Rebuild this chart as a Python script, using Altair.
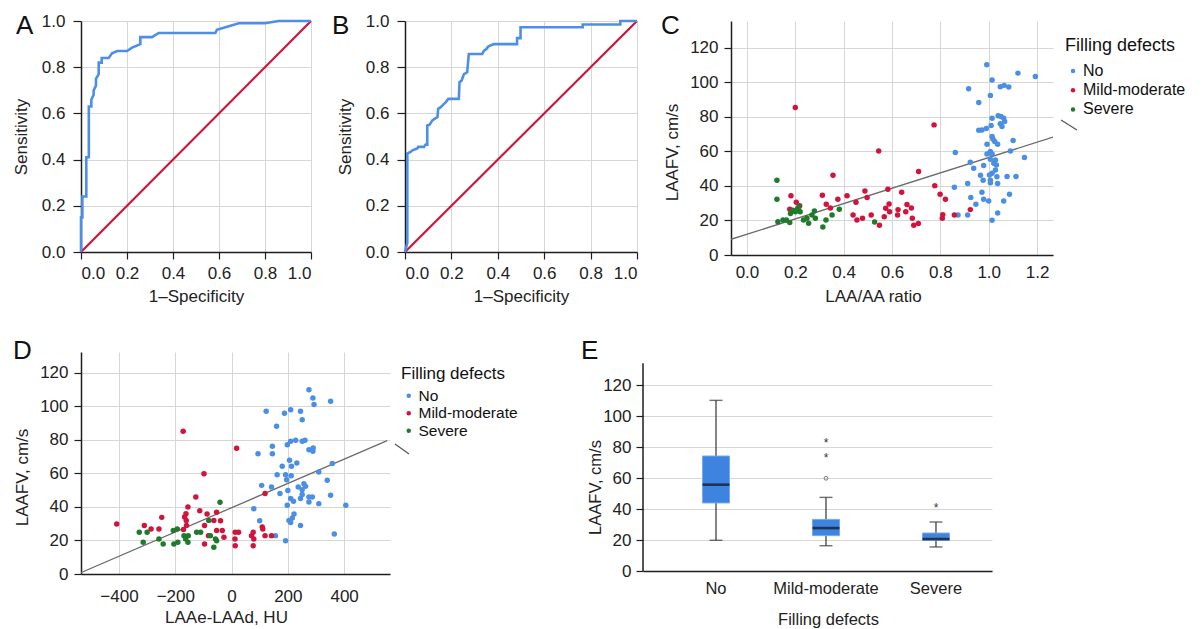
import altair as alt
import pandas as pd

FONT = "Liberation Sans"
BLUE = "#4a8fe4"
RED = "#d0143c"
GREEN = "#1f7a2c"
ROC_BLUE = "#4d8fe6"
ROC_RED = "#cc1538"
BOX_BLUE = "#3f83e0"
GRID = "#d6d6d6"
AXIS = "#1e1e1e"
TXT = "#222222"

# ---------------- ROC curves (1-specificity, sensitivity) ----------------
roc_a = [(0, 0), (0, 0.15), (0.006, 0.15), (0.006, 0.24), (0.023, 0.24), (0.023, 0.41),
         (0.034, 0.41), (0.034, 0.63), (0.045, 0.63), (0.045, 0.66), (0.055, 0.68),
         (0.055, 0.70), (0.065, 0.72), (0.065, 0.75), (0.077, 0.77), (0.077, 0.82),
         (0.09, 0.82), (0.09, 0.84), (0.12, 0.84), (0.135, 0.86), (0.157, 0.87),
         (0.2, 0.87), (0.222, 0.885), (0.258, 0.9), (0.258, 0.93), (0.309, 0.93),
         (0.338, 0.948), (0.584, 0.948), (0.591, 0.962), (0.686, 0.99), (0.8, 0.99),
         (0.859, 1.0), (1.0, 1.0)]
roc_b = [(0, 0), (0.01, 0.04), (0.01, 0.426), (0.024, 0.433), (0.032, 0.44), (0.053, 0.448),
         (0.057, 0.455), (0.082, 0.455), (0.089, 0.465), (0.096, 0.465), (0.096, 0.548),
         (0.106, 0.551), (0.118, 0.57), (0.129, 0.577), (0.14, 0.584), (0.143, 0.62),
         (0.154, 0.627), (0.164, 0.637), (0.175, 0.648), (0.187, 0.663), (0.232, 0.663),
         (0.235, 0.735), (0.244, 0.742), (0.254, 0.77), (0.268, 0.778), (0.275, 0.857),
         (0.333, 0.857), (0.34, 0.871), (0.35, 0.878), (0.36, 0.89), (0.383, 0.9),
         (0.483, 0.9), (0.483, 0.926), (0.498, 0.926), (0.498, 0.973), (0.766, 0.973),
         (0.766, 0.985), (0.928, 0.985), (0.928, 1.0), (1.0, 1.0)]
roc_diag = [0, 1]
roc_ticks = [0, 0.2, 0.4, 0.6, 0.8, 1.0]

# ---------------- C: LAA/AA ratio vs LAAFV ----------------
groups = ["No", "Mild-moderate", "Severe"]
c_no = [(0.992, 110.3), (1.014, 101.4), (1.121, 105.4), (1.193, 103.5), (0.917, 96.3),
        (0.959, 88.4), (1.007, 92.5), (1.048, 97.5), (1.064, 98.3), (1.083, 97.3),
        (0.959, 72.3), (0.972, 72.5), (0.99, 73.3), (1.01, 75.0), (1.014, 79.3),
        (1.039, 80.7), (1.051, 80.3), (1.062, 79.3), (1.066, 77.4), (1.048, 76.0),
        (1.055, 74.5), (1.014, 68.7), (1.018, 67.1), (1.025, 65.8), (0.993, 64.2),
        (1.037, 64.2), (1.101, 66.3), (1.007, 60.0), (1.014, 58.6), (0.993, 58.6),
        (1.09, 60.3), (1.148, 56.5), (0.862, 59.4), (0.924, 53.8), (0.938, 50.3),
        (0.979, 51.8), (1.007, 55.5), (1.021, 53.2), (1.028, 55.1), (1.032, 52.2),
        (1.028, 49.3), (1.014, 47.4), (1.003, 46.4), (0.966, 46.2), (0.977, 43.3),
        (1.007, 43.3), (1.034, 45.3), (1.076, 45.5), (1.113, 45.5), (1.007, 41.8),
        (1.037, 41.4), (0.913, 41.4), (0.858, 39.3), (0.972, 36.4), (1.086, 35.2),
        (0.926, 33.3), (0.979, 32.3), (1.0, 31.3), (1.062, 31.3), (0.947, 29.4),
        (0.873, 23.2), (0.913, 23.2), (1.037, 24.4), (1.014, 20.1)]
c_mild = [(0.2, 85.5), (0.182, 34.4), (0.177, 26.5), (0.204, 30.6), (0.218, 28.6),
          (0.312, 34.6), (0.328, 29.4), (0.345, 27.3), (0.356, 46.2), (0.376, 32.3),
          (0.414, 34.4), (0.439, 23.2), (0.451, 30.6), (0.455, 20.3), (0.478, 21.3),
          (0.488, 37.1), (0.497, 33.3), (0.514, 23.2), (0.545, 60.3), (0.548, 17.2),
          (0.568, 22.2), (0.574, 27.1), (0.583, 38.1), (0.588, 29.6), (0.59, 25.1),
          (0.623, 23.2), (0.625, 26.3), (0.64, 36.4), (0.657, 25.1), (0.662, 29.2),
          (0.68, 27.3), (0.684, 21.3), (0.69, 17.2), (0.709, 18.2), (0.71, 48.4),
          (0.774, 75.4), (0.777, 40.2), (0.799, 35.2), (0.81, 23.4), (0.808, 21.3),
          (0.821, 32.3), (0.858, 23.2), (0.924, 26.3)]
c_severe = [(0.124, 43.3), (0.124, 32.3), (0.128, 19.3), (0.149, 20.3), (0.163, 20.3),
            (0.177, 18.8), (0.18, 24.0), (0.19, 26.0), (0.2, 25.0), (0.21, 27.0),
            (0.215, 28.0), (0.22, 25.0), (0.234, 20.3), (0.248, 21.3), (0.255, 18.4),
            (0.269, 23.2), (0.279, 25.5), (0.283, 21.3), (0.314, 16.2), (0.327, 20.3),
            (0.352, 23.2), (0.382, 26.5), (0.528, 19.1)]
c_fit = [(-0.066, 9.1), (1.266, 68.3)]
c_xticks = [0, 0.2, 0.4, 0.6, 0.8, 1.0, 1.2]

# ---------------- D: LAAe-LAAd vs LAAFV ----------------
d_no = [(275, 110), (289, 105), (293, 101.1), (352, 103.1), (123, 97.1), (188, 95.9),
        (210, 98.1), (245, 97.1), (251, 92.1), (160, 88.2), (198, 77.2), (210, 79.2),
        (228, 79.8), (251, 79.2), (261, 79.8), (145, 76.2), (94, 71.8), (145, 71.8),
        (275, 74.2), (289, 73.2), (290, 75.2), (206, 67.9), (213, 64.3), (232, 66.3),
        (180, 64.3), (358, 65.9), (162, 59.3), (192, 59.3), (212, 58.7), (196, 56.3),
        (310, 60.9), (340, 55.9), (107, 52.9), (142, 51.9), (237, 51.9), (257, 53.9),
        (263, 52.3), (251, 50.3), (200, 49.9), (172, 48), (251, 47.4), (275, 46),
        (287, 46), (245, 45), (210, 45), (220, 43.4), (275, 43), (310, 42), (352, 47),
        (406, 41), (198, 41), (79, 39), (100, 31.8), (222, 35.8), (216, 33.4),
        (210, 30.8), (204, 32), (245, 28.9), (156, 22.9), (192, 19.9), (365, 23.9)]
d_mild = [(-408, 29.9), (-310, 28.9), (-286, 26.9), (-258, 26.9), (-248, 33.8), (-172, 85.2),
          (-167, 34), (-162, 36), (-161, 32), (-160, 29), (-171, 26.5), (-155, 40),
          (-127, 46), (-113, 37.8), (-98, 59.9), (-96, 28.9), (-96, 17.9), (-87, 35.8),
          (-82, 22.9), (-63, 32), (-53, 36.8), (-53, 25.9), (-39, 31.8), (-33, 25.9),
          (-27, 21.9), (13, 24.9), (12, 20.9), (13, 16.9), (18, 75), (25, 24.9), (71, 22.9),
          (77, 24.9), (79, 20.9), (77, 16.9), (109, 28.1), (111, 26.9), (119, 48),
          (119, 22.9), (142, 22.9)]
d_severe = [(-328, 24.9), (-314, 18.9), (-300, 24.9), (-258, 20.9), (-243, 17.9), (-207, 25.9),
            (-205, 17.9), (-193, 26.9), (-191, 18.9), (-169, 22.9), (-163, 20.9), (-155, 18.9),
            (-154, 22.9), (-124, 24.9), (-110, 24.9), (-81, 32), (-75, 22.9), (-63, 15.9),
            (-57, 20.9), (-41, 42.8), (-53, 19.9)]
d_fit = [(-546, 0.0), (553, 79.6)]
d_xticks = [-400, -200, 0, 200, 400]
laafv_ticks = [0, 20, 40, 60, 80, 100, 120]

# ---------------- E: box plot ----------------
e_groups = ["No", "Mild-moderate", "Severe"]
e_low = [19.8, 16.3, 15.5]
e_q1 = [43.9, 22.8, 19.8]
e_med = [55.7, 27.7, 20.6]
e_q3 = [74.2, 33.3, 24.5]
e_high = [110.1, 47.5, 31.6]
e_star_group = ["Mild-moderate", "Mild-moderate", "Severe"]
e_star_val = [84.7, 74.6, 42.6]
e_circle_group = ["Mild-moderate"]
e_circle_val = [59.8]
e_axis_span = [0, 134]


def letter(t, x, y):
    return alt.Chart(pd.DataFrame({"t": [t]})).mark_text(
        text=t, font=FONT, fontSize=26, align="left", baseline="top", color="#111111"
    ).encode(x=alt.value(x), y=alt.value(y))


def roc_panel(points, tag, w, h, lx):
    df = pd.DataFrame(points, columns=["fpr", "tpr"])
    df["i"] = range(len(df))
    dg = pd.DataFrame({"fpr": roc_diag, "tpr": roc_diag})
    xs = alt.Scale(domain=[0, 1], nice=False, zero=False)
    ys = alt.Scale(domain=[0, 1], nice=False, zero=False)
    xax = alt.Axis(values=roc_ticks, format=".1f", title="1–Specificity", tickSize=7,
                   labelPadding=6, titleX=w / 2, titleY=36, titleBaseline="top",
                   labelOverlap=False, tickCount=12)
    yax = alt.Axis(values=roc_ticks, format=".1f", title="Sensitivity", tickSize=8,
                   labelPadding=8, titleX=-51, titleY=h / 2, titleBaseline="bottom",
                   titleAngle=270, labelOverlap=False, tickCount=12)
    diag = alt.Chart(dg).mark_line(color=ROC_RED, strokeWidth=2.2).encode(
        x=alt.X("fpr:Q", scale=xs, axis=xax), y=alt.Y("tpr:Q", scale=ys, axis=yax))
    curve = alt.Chart(df).mark_line(color=ROC_BLUE, strokeWidth=2.6).encode(
        x="fpr:Q", y="tpr:Q", order="i:Q")
    return alt.layer(diag, curve, letter(tag, lx, -8)).properties(width=w, height=h)


def scatter_df(no, mild, sev):
    rows = [(x, y, "No") for x, y in no] + [(x, y, "Mild-moderate") for x, y in mild] + \
           [(x, y, "Severe") for x, y in sev]
    return pd.DataFrame(rows, columns=["x", "y", "g"])


def scatter_panel(df, fit, xdom, xticks, xfmt, xtitle, xtitleX, xtitleY, xlabpad,
                  ytitleY, ydom, w, h, legx, legy, legtitle, leglab, legrow, legtp,
                  tag, lx, ly, mark_xy):
    xs = alt.Scale(domain=xdom, nice=False, zero=False)
    ys = alt.Scale(domain=ydom, nice=False, zero=False)
    xax = alt.Axis(values=xticks, format=xfmt, title=xtitle, ticks=False, labelPadding=xlabpad,
                   titleX=xtitleX, titleY=xtitleY, titleBaseline="top", labelOverlap=False,
                   tickCount=12)
    yax = alt.Axis(values=laafv_ticks, title="LAAFV, cm/s", tickSize=7, labelPadding=6,
                   titleX=-50, titleY=ytitleY, titleBaseline="bottom", titleAngle=270,
                   labelOverlap=False, tickCount=12)
    leg = alt.Legend(orient="none", legendX=legx, legendY=legy, title="Filling defects",
                     titleFont=FONT, titleFontSize=legtitle, titleFontWeight="normal",
                     titleColor="#111111", labelFont=FONT, labelFontSize=leglab,
                     labelColor="#111111", symbolType="circle", symbolSize=20,
                     symbolStrokeWidth=0, rowPadding=legrow, titlePadding=legtp,
                     padding=0, labelOffset=2)
    fdf = pd.DataFrame(fit, columns=["x", "y"])
    line = alt.Chart(fdf).mark_line(color="#6b6b6b", strokeWidth=1.3, clip=True).encode(
        x=alt.X("x:Q", scale=xs, axis=xax), y=alt.Y("y:Q", scale=ys, axis=yax))
    pts = alt.Chart(df).mark_circle(size=30, opacity=1).encode(
        x="x:Q", y="y:Q",
        color=alt.Color("g:N", scale=alt.Scale(domain=groups, range=[BLUE, RED, GREEN]),
                        legend=leg, sort=groups))
    deco = alt.Chart(pd.DataFrame({"k": [0]})).mark_rule(color="#555555", strokeWidth=1.2).encode(
        x=alt.value(mark_xy[0]), y=alt.value(mark_xy[1]),
        x2=alt.value(mark_xy[2]), y2=alt.value(mark_xy[3]))
    return alt.layer(line, pts, deco, letter(tag, lx, ly)).properties(width=w, height=h)


def box_panel(w, h):
    df = pd.DataFrame({"g": e_groups, "low": e_low, "q1": e_q1, "med": e_med,
                       "q3": e_q3, "high": e_high})
    sdf = pd.DataFrame({"g": e_star_group, "v": e_star_val})
    cdf = pd.DataFrame({"g": e_circle_group, "v": e_circle_val})
    adf = pd.DataFrame({"bottom": [e_axis_span[0]], "top": [e_axis_span[1]]})
    xs = alt.Scale(domain=e_groups, paddingInner=0, paddingOuter=0.0865, align=0.946)
    ys = alt.Scale(domain=[0, 141.3], nice=False, zero=False)
    xax = alt.Axis(title="Filling defects", labelAngle=0, ticks=False, grid=False,
                   labelFontSize=16.5, labelPadding=9, titleFontSize=16.5,
                   titleX=185, titleY=40, titleBaseline="top")
    yax = alt.Axis(values=laafv_ticks, title="LAAFV, cm/s", domain=False, tickSize=7,
                   labelPadding=5, labelFontSize=17, titleFontSize=16.5,
                   titleX=-40, titleY=135, titleBaseline="bottom", titleAngle=270,
                   labelOverlap=False, tickCount=12)
    X = alt.X("g:N", scale=xs, axis=xax, sort=e_groups)
    whisk = alt.Chart(df).mark_rule(color="#333333", strokeWidth=1.2).encode(
        x=X, y=alt.Y("low:Q", scale=ys, axis=yax), y2="high:Q")
    box = alt.Chart(df).mark_bar(size=27, color=BOX_BLUE, stroke="#74aaf0", strokeWidth=1).encode(
        x=X, y="q1:Q", y2="q3:Q")
    cap_lo = alt.Chart(df).mark_tick(size=13, thickness=1.4, color="#333333").encode(x=X, y="low:Q")
    cap_hi = alt.Chart(df).mark_tick(size=13, thickness=1.4, color="#333333").encode(x=X, y="high:Q")
    med = alt.Chart(df).mark_tick(size=27, thickness=2.6, color="#111111").encode(x=X, y="med:Q")
    stars = alt.Chart(sdf).mark_text(text="*", font=FONT, fontSize=12, dy=3, color="#333333").encode(
        x=X, y="v:Q")
    circ = alt.Chart(cdf).mark_point(shape="circle", size=14, filled=False, color="#444444",
                                     strokeWidth=1).encode(x=X, y="v:Q")
    axl = alt.Chart(adf).mark_rule(color=AXIS, strokeWidth=1.5).encode(
        x=alt.value(0), y="bottom:Q", y2="top:Q")
    return alt.layer(whisk, box, cap_lo, cap_hi, med, stars, circ, axl,
                     letter("E", -62, -14)).properties(width=w, height=h)


A = roc_panel(roc_a, "A", 230, 231, -65)
B = roc_panel(roc_b, "B", 232, 231, -73)
C = scatter_panel(scatter_df(c_no, c_mild, c_severe), c_fit, [-0.066, 1.266], c_xticks, ".1f",
                  "LAA/AA ratio", 142, 33, 9, 131, [0, 135.6], 322, 234,
                  334, 16, 18, 16, 3.2, 8, "C", -70, -8, [330, 99, 346, 109])
D = scatter_panel(scatter_df(d_no, d_mild, d_severe), d_fit, [-535, 563], d_xticks, "d",
                  "LAAe-LAAd, HU", 145, 35, 14, 125, [0, 132.5], 309, 222,
                  320, 14, 17, 15.5, 0.5, 5, "D", -68, -14, [314, 92, 328, 102])
E = box_panel(349, 219)

top = alt.hconcat(A, B, C, spacing=94, bounds="flush").resolve_scale(
    color="independent").resolve_legend(color="independent")
bottom = alt.hconcat(D, E, spacing=253, bounds="flush").resolve_scale(
    color="independent").resolve_legend(color="independent")

chart = alt.vconcat(top, bottom, spacing=34,
                    padding={"left": 4, "top": 4, "right": 4, "bottom": 0}).resolve_scale(
    color="independent").resolve_legend(color="independent").configure_view(
    stroke=None).configure_axis(
    labelFont=FONT, labelFontSize=17, labelColor=TXT, titleFont=FONT, titleFontSize=17,
    titleFontWeight="normal", titleColor=TXT, gridColor=GRID, gridWidth=1,
    domainColor=AXIS, domainWidth=1.5, tickColor=AXIS, tickWidth=1.2)

chart.save("out.html", embed_options={"renderer": "svg", "actions": False})
